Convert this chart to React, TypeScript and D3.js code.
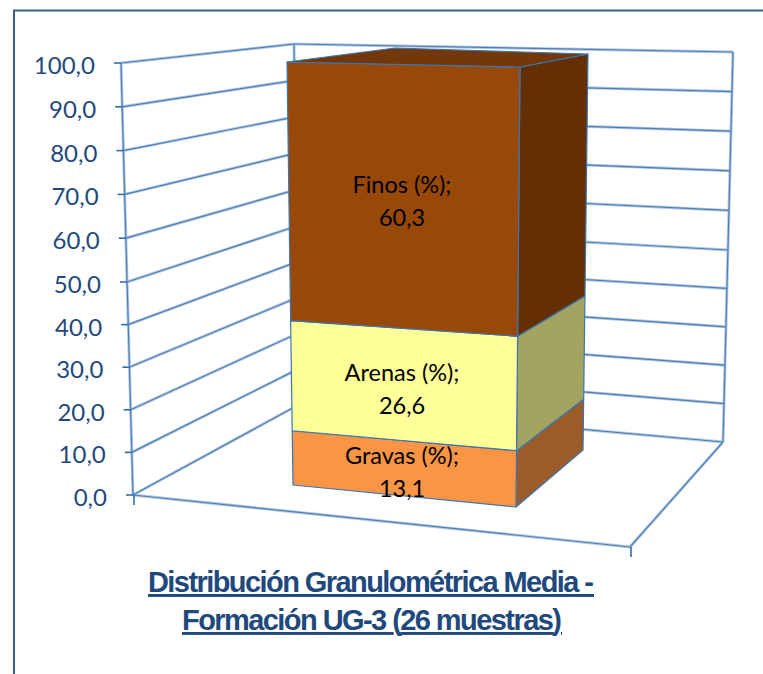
import React, { useEffect, useRef } from "react";
import * as d3 from "d3";

const seriesNames = ["Gravas (%)", "Arenas (%)", "Finos (%)"];
const seriesValues = [13.1, 26.6, 60.3];
const frontColors = ["#f99545", "#ffff99", "#984807"];
const sideColors = ["#9b5c2a", "#a3a45f", "#632f03"];
const topColor = "#73380a";
const yTicks = d3.range(0, 101, 10);
const titleLines = ["Distribución Granulométrica Media -", "Formación UG-3 (26 muestras)"];

const fmt = (v: number) => v.toFixed(1).replace(".", ",");

// one vertical edge of the 3D box: maps a value (0-100) to screen x,y
// y is piecewise because the perspective squeezes the lower half a little
function edge(x0: number, x1: number, y0: number, ym: number, y1: number) {
  const x = d3.scaleLinear().domain([0, 100]).range([x0, x1]);
  const y = d3.scaleLinear().domain([0, 50, 100]).range([y0, ym, y1]);
  return (v: number): [number, number] => [x(v), y(v)];
}

export default function App() {
  const ref = useRef<SVGSVGElement>(null);

  useEffect(() => {
    const svg = d3.select(ref.current);
    svg.selectAll("*").remove();

    // walls
    const frontAxis = edge(133, 121, 495, 282, 63);
    const backLeft = edge(300, 294, 404, 226, 44);
    const backRight = edge(723, 733, 442, 250, 52);
    const floorFrontRight: [number, number] = [630, 547];

    // bar
    const barFL = edge(293, 287, 485, 278, 62);
    const barFR = edge(516, 520, 507, 292, 67);
    const barBR = edge(583, 588, 450, 256, 54);
    const barBLTop: [number, number] = [395, 48];

    const line = d3.line();

    svg
      .append("path")
      .attr("d", "M14,674V10.5H763")
      .attr("fill", "none")
      .attr("stroke", "#366092")
      .attr("stroke-width", 2);

    const wallPaths: [number, number][][] = [
      [frontAxis(0), frontAxis(100)],
      [backLeft(0), backLeft(100)],
      [backRight(0), backRight(100)],
      [frontAxis(0), floorFrontRight],
      [floorFrontRight, backRight(0)],
      ...yTicks.map((t) => [frontAxis(t), backLeft(t)] as [number, number][]),
      ...yTicks.map((t) => [backLeft(t), backRight(t)] as [number, number][]),
    ];

    const walls = svg.append("g").attr("fill", "none");
    walls
      .selectAll("path.halo")
      .data(wallPaths)
      .enter()
      .append("path")
      .attr("class", "halo")
      .attr("d", (d) => line(d))
      .attr("stroke", "#b4cae4")
      .attr("stroke-width", 3);
    walls
      .selectAll("path.core")
      .data(wallPaths)
      .enter()
      .append("path")
      .attr("class", "core")
      .attr("d", (d) => line(d))
      .attr("stroke", "#4f7fb4")
      .attr("stroke-width", 1.2);

    // axis ticks
    const ticks = svg.append("g").attr("stroke", "#2e6fb0").attr("stroke-width", 1.6);
    ticks
      .selectAll("line.y")
      .data(yTicks)
      .enter()
      .append("line")
      .attr("class", "y")
      .attr("x1", (t) => frontAxis(t)[0] - 7)
      .attr("x2", (t) => frontAxis(t)[0])
      .attr("y1", (t) => frontAxis(t)[1])
      .attr("y2", (t) => frontAxis(t)[1]);
    ticks
      .selectAll("line.x")
      .data([frontAxis(0), floorFrontRight])
      .enter()
      .append("line")
      .attr("class", "x")
      .attr("x1", (d) => d[0] + 1)
      .attr("x2", (d) => d[0] + 1)
      .attr("y1", (d) => d[1])
      .attr("y2", (d) => d[1] + 10);

    svg
      .append("g")
      .selectAll("text")
      .data(yTicks)
      .enter()
      .append("text")
      .attr("x", (t) => frontAxis(t)[0] - 26)
      .attr("y", (t) => frontAxis(t)[1] + 11)
      .attr("text-anchor", "end")
      .attr("font-family", "Lato, sans-serif")
      .attr("font-size", 24)
      .attr("fill", "#1f497d")
      .text((t) => fmt(t));

    // stacked bar, from the bottom up
    const stops = [0, ...d3.cumsum(seriesValues)];
    const edgeStroke = "#3b76b2";
    const bar = svg.append("g").attr("stroke", edgeStroke).attr("stroke-width", 1.2).attr("stroke-linejoin", "round");

    seriesValues.forEach((_, i) => {
      const lo = stops[i];
      const hi = stops[i + 1];
      bar
        .append("path")
        .attr("d", line([barFR(lo), barBR(lo), barBR(hi), barFR(hi)]) + "Z")
        .attr("fill", sideColors[i]);
      bar
        .append("path")
        .attr("d", line([barFL(lo), barFR(lo), barFR(hi), barFL(hi)]) + "Z")
        .attr("fill", frontColors[i]);
    });

    bar
      .append("path")
      .attr("d", line([barFL(100), barFR(100), barBR(100), barBLTop]) + "Z")
      .attr("fill", topColor);

    // data labels sit at the centre of each front face
    const labels = svg
      .append("g")
      .attr("font-family", "Lato, sans-serif")
      .attr("font-size", 23.5)
      .attr("fill", "#000")
      .attr("text-anchor", "middle");

    seriesNames.forEach((name, i) => {
      const mid = (stops[i] + stops[i + 1]) / 2;
      const cy = (barFL(mid)[1] + barFR(mid)[1]) / 2 + 4;
      const text = labels.append("text");
      text.append("tspan").attr("x", 402).attr("y", cy - 8).text(`${name};`);
      text.append("tspan").attr("x", 402).attr("y", cy + 25).text(fmt(seriesValues[i]));
    });

    // title
    const titleX = [148, 182];
    const titleW = [446, 380];
    const titleY = [592, 630];
    svg
      .append("g")
      .selectAll("text")
      .data(titleLines)
      .enter()
      .append("text")
      .attr("x", (_, i) => titleX[i])
      .attr("y", (_, i) => titleY[i])
      .attr("textLength", (_, i) => titleW[i])
      .attr("lengthAdjust", "spacing")
      .attr("font-family", "'Liberation Sans', Arial, sans-serif")
      .attr("font-weight", "bold")
      .attr("font-size", 29)
      .attr("fill", "#1f497d")
      .attr("text-decoration", "underline")
      .text((d) => d);
  }, []);

  return (
    <svg
      ref={ref}
      width={763}
      height={674}
      style={{ position: "absolute", left: 0, top: 0, display: "block", background: "#fff" }}
    />
  );
}
